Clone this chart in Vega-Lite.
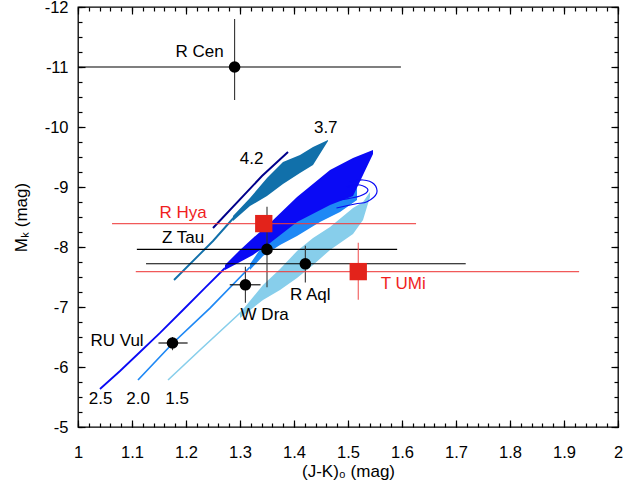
{
  "$schema": "https://vega.github.io/schema/vega-lite/v6.json",
  "width": 540,
  "height": 420,
  "autosize": "none",
  "padding": {"left": 78, "top": 7, "right": 21, "bottom": 59},
  "background": "#ffffff",
  "config": {
    "font": "Liberation Sans",
    "view": {"stroke": "#000000", "strokeWidth": 1.3},
    "axis": {
      "labelFont": "Liberation Sans", "labelFontSize": 16.5, "labelColor": "#000000",
      "titleFont": "Liberation Sans", "titleFontSize": 17, "titleFontWeight": "normal", "titleColor": "#000000",
      "tickColor": "#000000", "tickWidth": 1.2, "grid": false, "domain": false, "zindex": 2,
      "labelFlush": false, "labelOverlap": false, "labelBound": false
    }
  },
  "datasets": {
    "bands": [
      {"track": "sky", "x": 1.3, "ya": -6.817, "yb": -6.9},
      {"track": "sky", "x": 1.3426, "ya": -7.117, "yb": -7.367},
      {"track": "sky", "x": 1.3741, "ya": -7.283, "yb": -7.633},
      {"track": "sky", "x": 1.4056, "ya": -7.483, "yb": -7.933},
      {"track": "sky", "x": 1.4352, "ya": -7.7, "yb": -8.15},
      {"track": "sky", "x": 1.4667, "ya": -7.95, "yb": -8.333},
      {"track": "sky", "x": 1.5093, "ya": -8.217, "yb": -8.65},
      {"track": "sky", "x": 1.5278, "ya": -8.45, "yb": -8.75},
      {"track": "sky", "x": 1.5407, "ya": -8.833, "yb": -8.917},
      {"track": "dodger", "x": 1.3185, "ya": -7.617, "yb": -7.717},
      {"track": "dodger", "x": 1.3426, "ya": -7.85, "yb": -8.033},
      {"track": "dodger", "x": 1.3741, "ya": -8.033, "yb": -8.283},
      {"track": "dodger", "x": 1.4056, "ya": -8.183, "yb": -8.45},
      {"track": "dodger", "x": 1.4481, "ya": -8.417, "yb": -8.65},
      {"track": "dodger", "x": 1.4852, "ya": -8.583, "yb": -8.783},
      {"track": "dodger", "x": 1.5167, "ya": -8.783, "yb": -9.033},
      {"track": "blue", "x": 1.2722, "ya": -7.617, "yb": -7.7},
      {"track": "blue", "x": 1.3, "ya": -7.75, "yb": -7.95},
      {"track": "blue", "x": 1.3241, "ya": -7.867, "yb": -8.15},
      {"track": "blue", "x": 1.3556, "ya": -8.067, "yb": -8.4},
      {"track": "blue", "x": 1.4056, "ya": -8.417, "yb": -8.833},
      {"track": "blue", "x": 1.4667, "ya": -8.7, "yb": -9.283},
      {"track": "blue", "x": 1.5093, "ya": -8.85, "yb": -9.483},
      {"track": "blue", "x": 1.5463, "ya": -9.55, "yb": -9.617},
      {"track": "teal", "x": 1.287, "ya": -8.433, "yb": -8.517},
      {"track": "teal", "x": 1.3185, "ya": -8.683, "yb": -8.817},
      {"track": "teal", "x": 1.35, "ya": -8.85, "yb": -9.15},
      {"track": "teal", "x": 1.3796, "ya": -9.05, "yb": -9.417},
      {"track": "teal", "x": 1.4111, "ya": -9.233, "yb": -9.533},
      {"track": "teal", "x": 1.4352, "ya": -9.367, "yb": -9.667},
      {"track": "teal", "x": 1.463, "ya": -9.767, "yb": -9.783}
    ],
    "lines": [
      {"track": "sky", "seg": "sky1", "o": 1, "x": 1.1667, "y": -5.783},
      {"track": "sky", "seg": "sky1", "o": 2, "x": 1.2259, "y": -6.283},
      {"track": "sky", "seg": "sky1", "o": 3, "x": 1.3, "y": -6.9},
      {"track": "sky", "seg": "sky1", "o": 4, "x": 1.3426, "y": -7.233},
      {"track": "dodger", "seg": "dod1", "o": 1, "x": 1.1111, "y": -5.783},
      {"track": "dodger", "seg": "dod1", "o": 2, "x": 1.1759, "y": -6.4},
      {"track": "dodger", "seg": "dod1", "o": 3, "x": 1.2444, "y": -6.983},
      {"track": "dodger", "seg": "dod1", "o": 4, "x": 1.3185, "y": -7.667},
      {"track": "blue", "seg": "blue1", "o": 1, "x": 1.0407, "y": -5.633},
      {"track": "blue", "seg": "blue1", "o": 2, "x": 1.0778, "y": -5.933},
      {"track": "blue", "seg": "blue1", "o": 3, "x": 1.1148, "y": -6.25},
      {"track": "blue", "seg": "blue1", "o": 4, "x": 1.1519, "y": -6.567},
      {"track": "blue", "seg": "blue1", "o": 5, "x": 1.1944, "y": -6.95},
      {"track": "blue", "seg": "blue1", "o": 6, "x": 1.2352, "y": -7.317},
      {"track": "blue", "seg": "blue1", "o": 7, "x": 1.2722, "y": -7.65},
      {"track": "teal", "seg": "teal1", "o": 1, "x": 1.1778, "y": -7.45},
      {"track": "teal", "seg": "teal1", "o": 2, "x": 1.25, "y": -8.1},
      {"track": "teal", "seg": "teal1", "o": 3, "x": 1.287, "y": -8.475},
      {"track": "teal", "seg": "teal1", "o": 4, "x": 1.3185, "y": -8.75},
      {"track": "navy", "seg": "navy1", "o": 1, "x": 1.25, "y": -8.317},
      {"track": "navy", "seg": "navy1", "o": 2, "x": 1.3407, "y": -9.183},
      {"track": "navy", "seg": "navy1", "o": 3, "x": 1.3889, "y": -9.583}
    ],
    "loops": [
      {"track": "blue", "seg": "loop1", "o": 1, "x": 1.4787, "y": -8.65},
      {"track": "blue", "seg": "loop1", "o": 2, "x": 1.513, "y": -8.717},
      {"track": "blue", "seg": "loop1", "o": 3, "x": 1.5352, "y": -8.755},
      {"track": "blue", "seg": "loop1", "o": 4, "x": 1.5531, "y": -8.895},
      {"track": "blue", "seg": "loop1", "o": 5, "x": 1.5481, "y": -9.05},
      {"track": "blue", "seg": "loop1", "o": 6, "x": 1.5278, "y": -9.117},
      {"track": "blue", "seg": "loop1", "o": 7, "x": 1.5037, "y": -9.083},
      {"track": "blue", "seg": "loop2", "o": 1, "x": 1.4852, "y": -8.783},
      {"track": "blue", "seg": "loop2", "o": 2, "x": 1.5222, "y": -8.85},
      {"track": "blue", "seg": "loop2", "o": 3, "x": 1.537, "y": -8.95},
      {"track": "blue", "seg": "loop2", "o": 4, "x": 1.5222, "y": -9.033},
      {"track": "blue", "seg": "loop2", "o": 5, "x": 1.4981, "y": -9.0}
    ],
    "stars": [
      {"name": "R Cen", "kind": "black", "x": 1.29, "y": -11.0, "xlo": 1.0, "xhi": 1.598, "ylo": -11.8, "yhi": -10.45},
      {"name": "R Hya", "kind": "red", "x": 1.344, "y": -8.39, "xlo": 1.063, "xhi": 1.626, "ylo": -8.5, "yhi": -8.28},
      {"name": "Z Tau", "kind": "black", "x": 1.35, "y": -7.96, "xlo": 1.109, "xhi": 1.591, "ylo": -8.67, "yhi": -7.33},
      {"name": "R Aql", "kind": "black", "x": 1.421, "y": -7.72, "xlo": 1.126, "xhi": 1.718, "ylo": -8.02, "yhi": -7.41},
      {"name": "T UMi", "kind": "red", "x": 1.519, "y": -7.59, "xlo": 1.107, "xhi": 1.928, "ylo": -8.07, "yhi": -7.12},
      {"name": "W Dra", "kind": "black", "x": 1.31, "y": -7.37, "xlo": 1.281, "xhi": 1.338, "ylo": -7.67, "yhi": -7.07},
      {"name": "RU Vul", "kind": "black", "x": 1.175, "y": -6.4, "xlo": 1.149, "xhi": 1.203, "ylo": -6.5, "yhi": -6.28}
    ],
    "labels": [
      {"text": "R Cen", "kind": "black", "x": 1.2252, "y": -11.258},
      {"text": "R Hya", "kind": "red", "x": 1.1946, "y": -8.575},
      {"text": "Z Tau", "kind": "black", "x": 1.1946, "y": -8.158},
      {"text": "R Aql", "kind": "black", "x": 1.43, "y": -7.2},
      {"text": "T UMi", "kind": "red", "x": 1.6024, "y": -7.39},
      {"text": "W Dra", "kind": "black", "x": 1.3457, "y": -6.867},
      {"text": "RU Vul", "kind": "black", "x": 1.0723, "y": -6.433},
      {"text": "4.2", "kind": "black", "x": 1.3216, "y": -9.467},
      {"text": "3.7", "kind": "black", "x": 1.4588, "y": -9.983},
      {"text": "2.5", "kind": "black", "x": 1.042, "y": -5.467},
      {"text": "2.0", "kind": "black", "x": 1.1112, "y": -5.467},
      {"text": "1.5", "kind": "black", "x": 1.1835, "y": -5.467}
    ]
  },
  "resolve": {"axis": {"x": "independent", "y": "independent"}},
  "layer": [
    {
      "data": {"name": "bands"},
      "mark": {"type": "area", "interpolate": "linear", "clip": true},
      "encoding": {
        "x": {"field": "x", "type": "quantitative",
          "scale": {"domain": [1, 2], "nice": false, "zero": false},
          "axis": {
            "orient": "bottom",
            "values": [1,1.1,1.2,1.3,1.4,1.5,1.6,1.7,1.8,1.9,2],
            "labelExpr": "toString(round(datum.value*10)/10)",
            "tickSize": -7,
            "labelPadding": 24,
            "title": "(J-K)₀ (mag)",
            "titlePadding": 3
          }
        },
        "y": {"field": "ya", "type": "quantitative",
          "scale": {"domain": [-12, -5], "reverse": true, "nice": false, "zero": false},
          "axis": {
            "orient": "left",
            "values": [-12,-11,-10,-9,-8,-7,-6,-5],
            "labelExpr": "toString(datum.value)",
            "tickSize": -7,
            "labelPadding": 17,
            "title": "Mₖ (mag)",
            "titlePadding": 14
          }
        },
        "y2": {"field": "yb"},
        "detail": {"field": "track"},
        "color": {"field": "track", "type": "nominal", "legend": null,
          "scale": {"domain": ["sky", "dodger", "blue", "teal", "navy"], "range": ["#87ceeb", "#1e88f5", "#0a0af5", "#1170aa", "#00008b"]}}
      }
    },
    {
      "data": {"name": "lines"},
      "mark": {"type": "line", "clip": true},
      "encoding": {
        "x": {"field": "x", "type": "quantitative",
          "axis": {
            "orient": "bottom", "labels": false, "title": null, "tickSize": -4,
            "values": [1,1.02,1.04,1.06,1.08,1.1,1.12,1.14,1.16,1.18,1.2,1.22,1.24,1.26,1.28,1.3,1.32,1.34,1.36,1.38,1.4,1.42,1.44,1.46,1.48,1.5,1.52,1.54,1.56,1.58,1.6,1.62,1.64,1.66,1.68,1.7,1.72,1.74,1.76,1.78,1.8,1.82,1.84,1.86,1.88,1.9,1.92,1.94,1.96,1.98,2]
          }
        },
        "y": {"field": "y", "type": "quantitative",
          "axis": {
            "orient": "left", "labels": false, "title": null, "tickSize": -4,
            "values": [-12,-11.75,-11.5,-11.25,-11,-10.75,-10.5,-10.25,-10,-9.75,-9.5,-9.25,-9,-8.75,-8.5,-8.25,-8,-7.75,-7.5,-7.25,-7,-6.75,-6.5,-6.25,-6,-5.75,-5.5,-5.25,-5]
          }
        },
        "detail": {"field": "seg"},
        "order": {"field": "o", "type": "quantitative"},
        "color": {"field": "track", "type": "nominal", "legend": null},
        "strokeWidth": {"field": "track", "type": "nominal", "legend": null,
          "scale": {"domain": ["sky", "dodger", "blue", "teal", "navy"], "range": [1.6, 2, 3, 1.8, 2]}}
      }
    },
    {
      "data": {"name": "loops"},
      "mark": {"type": "line", "clip": true, "strokeWidth": 1.2, "interpolate": "cardinal"},
      "encoding": {
        "x": {"field": "x", "type": "quantitative",
          "axis": {"orient": "top", "labels": false, "title": null, "tickSize": -7, "values": [1,1.1,1.2,1.3,1.4,1.5,1.6,1.7,1.8,1.9,2]}
        },
        "y": {"field": "y", "type": "quantitative",
          "axis": {"orient": "right", "labels": false, "title": null, "tickSize": -7, "values": [-12,-11,-10,-9,-8,-7,-6,-5]}
        },
        "detail": {"field": "seg"},
        "order": {"field": "o", "type": "quantitative"},
        "color": {"field": "track", "type": "nominal", "legend": null}
      }
    },
    {
      "data": {"name": "stars"},
      "transform": [{"filter": "datum.kind == 'black'"}],
      "mark": {"type": "rule", "color": "#000000", "strokeWidth": 1.1, "clip": true},
      "encoding": {
        "x": {"field": "xlo", "type": "quantitative", "axis": null},
        "x2": {"field": "xhi"},
        "y": {"field": "y", "type": "quantitative", "axis": null}
      }
    },
    {
      "data": {"name": "stars"},
      "transform": [{"filter": "datum.kind == 'black'"}],
      "mark": {"type": "rule", "color": "#333333", "strokeWidth": 1.1, "clip": true},
      "encoding": {
        "x": {"field": "x", "type": "quantitative", "axis": null},
        "y": {"field": "ylo", "type": "quantitative", "axis": null},
        "y2": {"field": "yhi"}
      }
    },
    {
      "data": {"name": "stars"},
      "transform": [{"filter": "datum.kind == 'red'"}],
      "mark": {"type": "rule", "color": "#ee3c3c", "opacity": 0.85, "strokeWidth": 1.1, "clip": true},
      "encoding": {
        "x": {"field": "xlo", "type": "quantitative", "axis": null},
        "x2": {"field": "xhi"},
        "y": {"field": "y", "type": "quantitative", "axis": null}
      }
    },
    {
      "data": {"name": "stars"},
      "transform": [{"filter": "datum.kind == 'red'"}],
      "mark": {"type": "rule", "color": "#ee3c3c", "opacity": 0.85, "strokeWidth": 1.1, "clip": true},
      "encoding": {
        "x": {"field": "x", "type": "quantitative", "axis": null},
        "y": {"field": "ylo", "type": "quantitative", "axis": null},
        "y2": {"field": "yhi"}
      }
    },
    {
      "data": {"name": "stars"},
      "transform": [{"filter": "datum.kind == 'black'"}],
      "mark": {"type": "point", "shape": "circle", "filled": true, "color": "#000000", "size": 135, "opacity": 1},
      "encoding": {
        "x": {"field": "x", "type": "quantitative", "axis": null},
        "y": {"field": "y", "type": "quantitative", "axis": null}
      }
    },
    {
      "data": {"name": "stars"},
      "transform": [{"filter": "datum.kind == 'red'"}],
      "mark": {"type": "point", "shape": "square", "filled": true, "color": "#e3231b", "size": 300, "opacity": 1},
      "encoding": {
        "x": {"field": "x", "type": "quantitative", "axis": null},
        "y": {"field": "y", "type": "quantitative", "axis": null}
      }
    },
    {
      "data": {"name": "labels"},
      "transform": [{"filter": "datum.kind == 'red'"}],
      "mark": {"type": "text", "font": "Liberation Sans", "fontSize": 17, "color": "#f01e1e", "align": "center", "baseline": "middle"},
      "encoding": {
        "x": {"field": "x", "type": "quantitative", "axis": null},
        "y": {"field": "y", "type": "quantitative", "axis": null},
        "text": {"field": "text"}
      }
    },
    {
      "data": {"name": "labels"},
      "transform": [{"filter": "datum.kind == 'black'"}],
      "mark": {"type": "text", "font": "Liberation Sans", "fontSize": 17, "color": "#000000", "align": "center", "baseline": "middle"},
      "encoding": {
        "x": {"field": "x", "type": "quantitative",
          "axis": {
            "orient": "top", "labels": false, "title": null, "tickSize": -4,
            "values": [1,1.02,1.04,1.06,1.08,1.1,1.12,1.14,1.16,1.18,1.2,1.22,1.24,1.26,1.28,1.3,1.32,1.34,1.36,1.38,1.4,1.42,1.44,1.46,1.48,1.5,1.52,1.54,1.56,1.58,1.6,1.62,1.64,1.66,1.68,1.7,1.72,1.74,1.76,1.78,1.8,1.82,1.84,1.86,1.88,1.9,1.92,1.94,1.96,1.98,2]
          }
        },
        "y": {"field": "y", "type": "quantitative",
          "axis": {
            "orient": "right", "labels": false, "title": null, "tickSize": -4,
            "values": [-12,-11.75,-11.5,-11.25,-11,-10.75,-10.5,-10.25,-10,-9.75,-9.5,-9.25,-9,-8.75,-8.5,-8.25,-8,-7.75,-7.5,-7.25,-7,-6.75,-6.5,-6.25,-6,-5.75,-5.5,-5.25,-5]
          }
        },
        "text": {"field": "text"}
      }
    }
  ]
}
